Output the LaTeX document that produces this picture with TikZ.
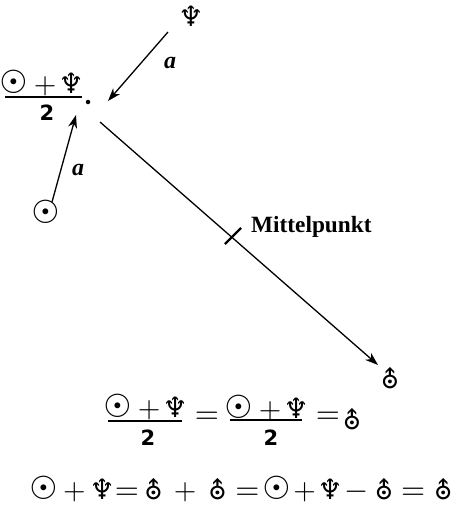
\documentclass[tikz,border=0pt]{standalone}
\usepackage{fontspec}
\usepackage{graphicx}
\setmainfont{Liberation Serif}
\newfontfamily\sym{DejaVu Sans}
\usetikzlibrary{arrows.meta}
\newcommand\SunSym{{\sym\fontsize{32}{32}\selectfont ☉}}
\newcommand\NepSym{{\sym\fontsize{28}{28}\selectfont ♆}}
\newcommand\UraSym{{\sym\fontsize{25}{25}\selectfont ⛢}}
\newcommand\PlusSym{\scalebox{2.9}{$+$}}
\newcommand\EqSym{\scalebox{3.1}{$=$}}
\newcommand\MinusSym{\scalebox{3.1}{$-$}}
\newcommand\TwoSym{{\sym\bfseries\fontsize{21}{21}\selectfont 2}}
\newcommand\cbox[2]{\makebox[#1pt][c]{#2}}
\newcommand\Numer{\cbox{34}{\SunSym}\cbox{28}{\PlusSym}\cbox{24}{\NepSym}}
\begin{document}
\begin{tikzpicture}[x=1pt,y=-1pt,
  conn/.style={line width=1.3pt,-{Stealth[length=13pt,width=9pt,inset=4pt]}},
  txt/.style={inner sep=0pt},
  fracrule/.style={line width=1.3pt},
  lab/.style={inner sep=0pt,font=\bfseries\itshape\fontsize{24}{24}\selectfont}]
\useasboundingbox[fill=white] (0,0) rectangle (459,506);
% diagram
\node[txt] (nep) at (191,16) {\NepSym};
\node[circle,fill,inner sep=0pt,minimum size=4.5pt] (mid) at (88,102) {};
\node[txt,anchor=west] (fnum) at (-3,83) {\Numer};
\draw[fracrule] (5,97) -- (82,97);
\node[txt] (fden) at (47,113) {\TwoSym};
\node[txt] (sun) at (46,212) {\SunSym};
\node[txt] (ura) at (390,378) {\UraSym};
\coordinate (nepS) at (168,32);
\coordinate (nepE) at (108,101);
\coordinate (sunS) at (52,202);
\coordinate (sunE) at (76,115);
\coordinate (lineS) at (100,122);
\coordinate (lineE) at (378,365);
\draw[conn] (nepS) -- (nepE);
\draw[conn] (sunS) -- (sunE);
\draw[conn] (lineS) -- (lineE);
\coordinate (tickA) at (225,244);
\coordinate (tickB) at (241,228);
\draw[line width=2.2pt] (tickA) -- (tickB);
\node[lab] (a1) at (170,63) {a};
\node[lab] (a2) at (78,170) {a};
\node[txt,anchor=base west,font=\bfseries\fontsize{23.3}{24}\selectfont] (mp) at (251,232) {Mittelpunkt};
% equation 1
\node[txt,anchor=west] (n1) at (101,407) {\Numer};
\draw[fracrule] (108,421) -- (182,421);
\node[txt] (d1) at (148,438) {\TwoSym};
\node[txt] (e1) at (207,418) {\EqSym};
\node[txt,anchor=west] (n2) at (222,408) {\Numer};
\draw[fracrule] (230,420) -- (302,420);
\node[txt] (d2) at (271,438) {\TwoSym};
\node[txt] (e2) at (328,418) {\EqSym};
\node[txt] (u1) at (352,419) {\UraSym};
% equation 2
\node[txt,anchor=west] (eq2) at (27.5,489) {\cbox{31.75}{\SunSym}\cbox{29.75}{\PlusSym}\cbox{26}{\NepSym}\cbox{23.5}{\EqSym}\cbox{29.5}{\UraSym}\cbox{34}{\PlusSym}\cbox{30.5}{\UraSym}\cbox{29.5}{\EqSym}\cbox{29.5}{\SunSym}\cbox{26}{\PlusSym}\cbox{25}{\NepSym}\cbox{27}{\MinusSym}\cbox{28.5}{\UraSym}\cbox{30}{\EqSym}\cbox{30}{\UraSym}};
\end{tikzpicture}
\end{document}
